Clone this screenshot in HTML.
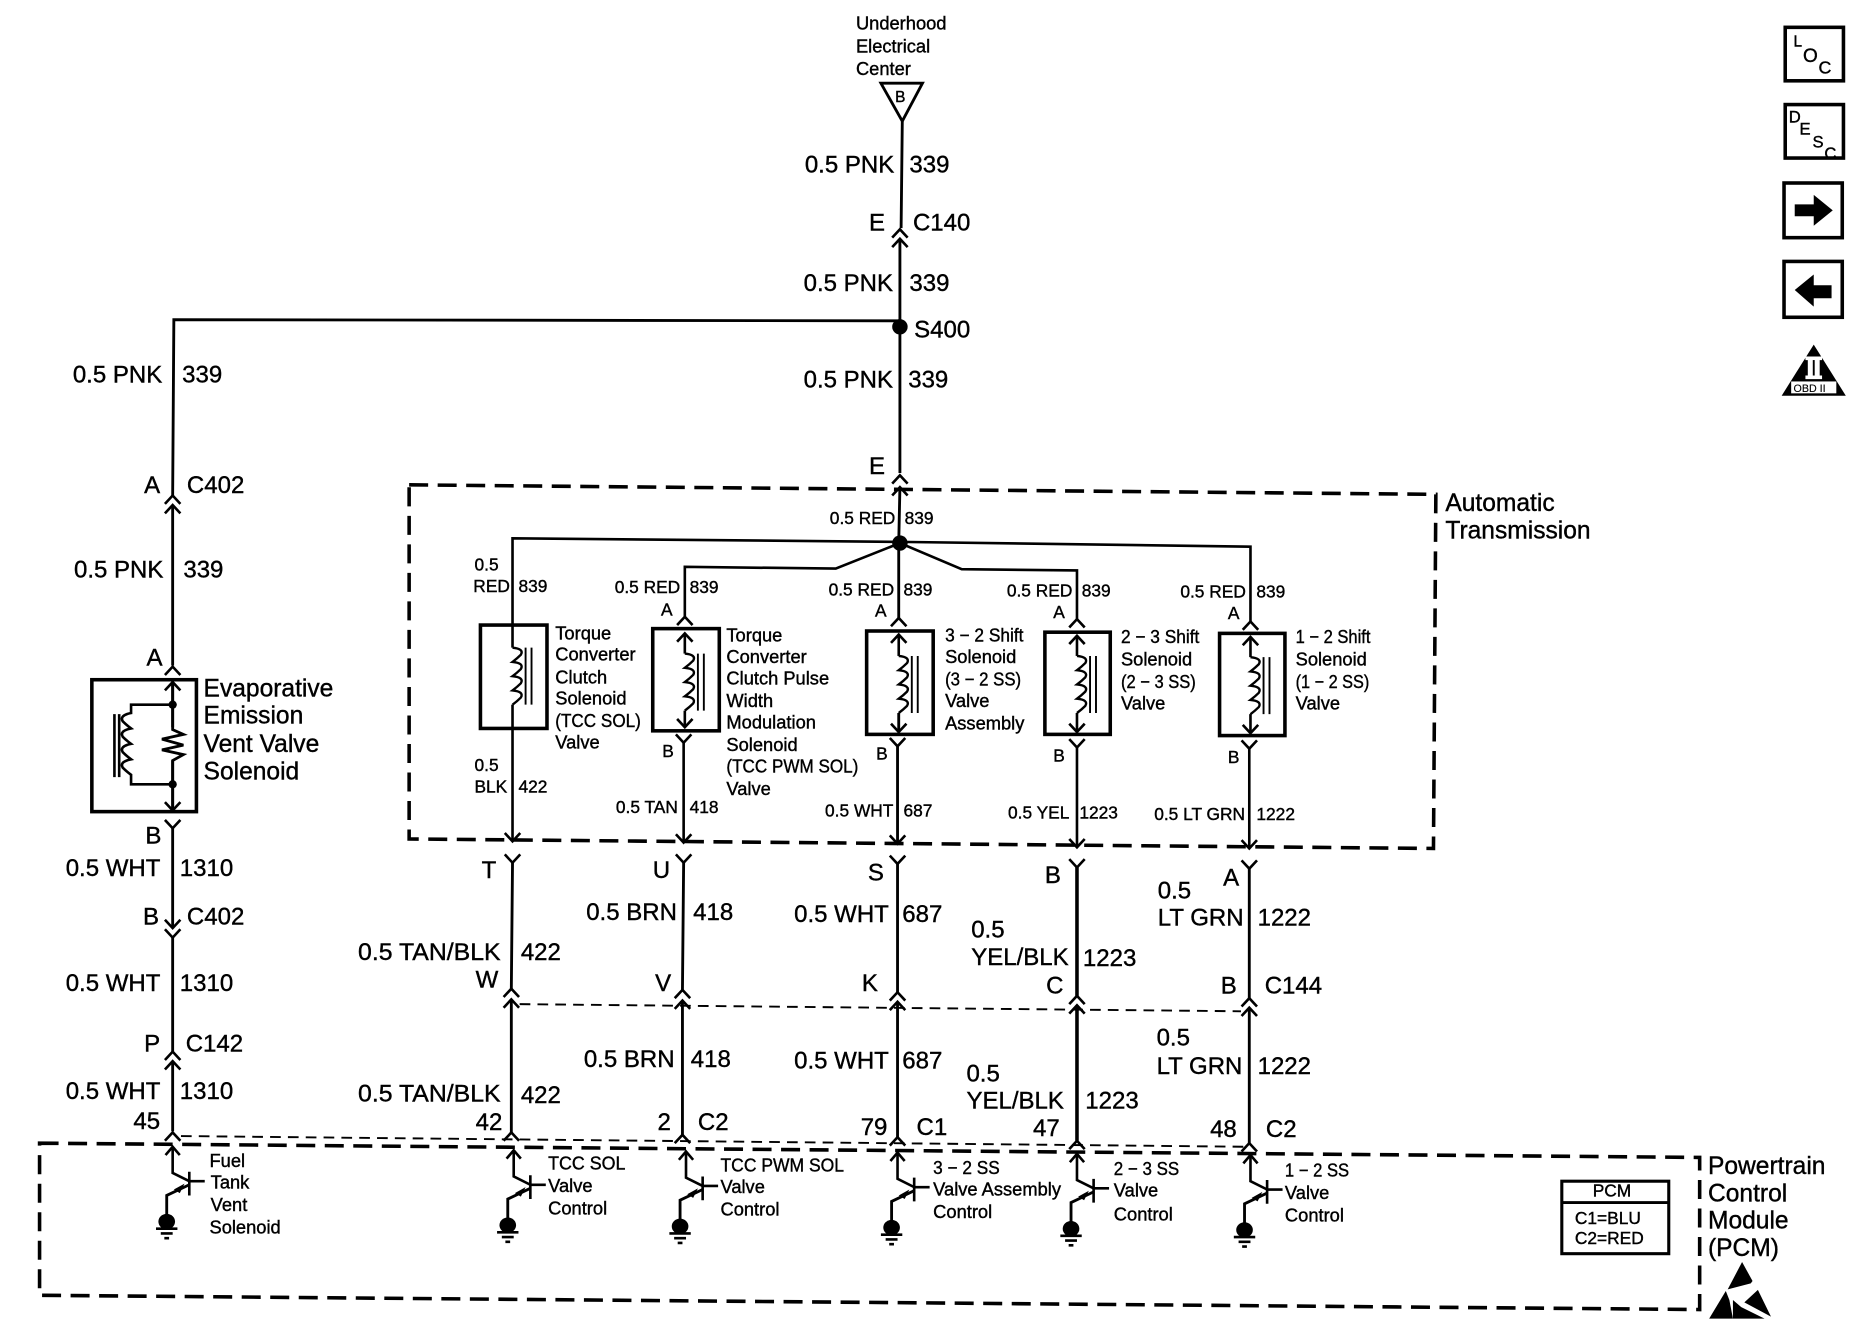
<!DOCTYPE html>
<html><head><meta charset="utf-8"><style>
html,body{margin:0;padding:0;background:#fff}
svg{display:block}
text{font-family:"Liberation Sans",sans-serif;fill:#000;stroke:#000;stroke-width:.33}
.w{font-size:20.2px}.s{font-size:14.6px}.m{font-size:15.4px}.l{font-size:20.7px}
.n{fill:none;stroke:#000;stroke-width:2.4}
.c{fill:none;stroke:#000;stroke-width:2.2}
</style></head><body>
<svg xmlns="http://www.w3.org/2000/svg" width="1864" height="1344" viewBox="0 0 1568 1131">
<defs>
<path id="u" class="c" d="M-6.5 7L0 0L6.5 7"/>
<path id="d" class="c" d="M-6.5 -7L0 0L6.5 -7"/>
<g id="coil" class="c"><path stroke-width="2" d="M0 0q10 1 7 6q-3 3 -7 6q10 1 7 6q-3 3 -7 6q10 1 7 6q-3 3 -7 6q10 1 7 6q-3 3 -7 6"/><path d="M11 0V48M16 0V48" stroke-width="1.6"/></g>
<g id="t"><path class="c" d="M0 1V22L14 29"/><path class="c" d="M-6 7L0 0L6 7"/><path class="c" d="M14 21V41M14 29H27" stroke-width="1.8"/><path class="n" d="M14 32L-5 41V58"/><path d="M10 31L1 36L6 39Z"/><ellipse cx="-5" cy="63" rx="7" ry="6.500"/><path class="c" d="M-14 69H4M-10 73H0M-7 77H-3" stroke-width="1.7"/></g>
</defs>

<!-- wires main -->
<path class="n" d="M759 102L758 192M757 201L757 398M757 410L756 457"/>
<path class="n" d="M757 270L146 269L145 417M145 425V560M145 574V592M145 612V592M145 640V682M145 697V781M145 789V885M145 893V952"/>
<path class="n" d="M741 70H776L759 102Z" fill="#fff"/>
<use href="#u" x="757" y="193"/><use href="#u" x="757" y="201"/>
<circle cx="757" cy="275" r="6.500"/>
<use href="#u" x="757" y="400"/><use href="#u" x="757" y="410"/>
<use href="#u" x="145" y="417"/><use href="#u" x="145" y="425"/>
<use href="#u" x="145" y="561"/><use href="#u" x="145" y="574"/>
<use href="#d" x="145" y="682"/><use href="#d" x="145" y="697"/>
<use href="#d" x="145" y="781"/><use href="#d" x="145" y="789"/>
<use href="#u" x="145" y="885"/><use href="#u" x="145" y="893"/>
<use href="#u" x="145" y="953"/>

<!-- evap solenoid -->
<rect x="77" y="572" width="88" height="111" fill="none" stroke="#000" stroke-width="3"/>
<path class="n" d="M145 574V614L154 618L136 622L154 627L136 631L154 635L145 640V682"/>
<path class="c" d="M145 593H110V600q-10 2 -7 7q3 3 7 6q-10 2 -7 7q3 3 7 6q-10 2 -7 7q3 3 7 6q-10 2 -7 7q3 3 7 6V660H145"/>
<path class="c" d="M96 601V654M100 601V654" stroke-width="1.6"/>
<circle cx="145" cy="593" r="3.500"/><circle cx="145" cy="660" r="3.500"/>

<!-- AT box -->
<path d="M344 408L1208 416L1206 714L344 706Z" fill="none" stroke="#000" stroke-width="3" stroke-dasharray="16 8"/>
<!-- bus -->
<path class="c" d="M431 545V453L757 456L1052 460V523"/>
<path class="c" d="M576 519V477L703 478.500L757 457L809 479L906 480V521"/>
<circle cx="757" cy="457" r="6.500"/>
<path class="n" d="M756 457V520" stroke-width="3"/>

<!-- solenoid boxes -->
<g fill="none" stroke="#000" stroke-width="3">
<rect x="404" y="526" width="56" height="87"/>
<rect x="549" y="529" width="56" height="86"/>
<rect x="729" y="531" width="56" height="87"/>
<rect x="879" y="532" width="55" height="86"/>
<rect x="1026" y="533" width="55" height="86"/>
</g>
<use href="#coil" x="431" y="545"/><path class="c" d="M431 593V707"/><use href="#d" x="431" y="708"/>
<use href="#u" x="576" y="519"/><use href="#u" x="576" y="533"/><path class="c" d="M576 533V550"/><use href="#coil" x="576" y="550"/><path class="c" d="M576 598V612M575 625V708"/><use href="#d" x="576" y="612"/><use href="#d" x="575" y="625"/><use href="#d" x="575" y="709"/>
<use href="#u" x="756" y="520"/><use href="#u" x="756" y="534"/><path class="c" d="M756 534V552"/><use href="#coil" x="756" y="552"/><path class="n" d="M756 600V616M755 628V709"/><use href="#d" x="756" y="616"/><use href="#d" x="755" y="628"/><use href="#d" x="755" y="710"/>
<use href="#u" x="906" y="521"/><use href="#u" x="906" y="535"/><path class="c" d="M906 535V552"/><use href="#coil" x="906" y="552"/><path class="c" d="M906 600V616M906 629V713"/><use href="#d" x="906" y="616"/><use href="#d" x="906" y="629"/><use href="#d" x="906" y="713"/>
<use href="#u" x="1052" y="523"/><use href="#u" x="1052" y="536"/><path class="c" d="M1052 536V553"/><use href="#coil" x="1052" y="553"/><path class="c" d="M1052 601V617M1051 630V714"/><use href="#d" x="1052" y="617"/><use href="#d" x="1051" y="630"/><use href="#d" x="1051" y="714"/>

<!-- lower wires -->
<g class="n">
<path d="M431 726L430 832M430 841V953"/>
<path d="M575 726L574 833M574 842V955"/>
<path d="M755 727V835M755 843V957"/>
<path d="M906 730V838M906 846V960" stroke-width="3"/>
<path d="M1051 731V840M1051 848V962"/>
</g>
<use href="#d" x="431" y="726"/><use href="#d" x="575" y="726"/><use href="#d" x="755" y="727"/><use href="#d" x="906" y="730"/><use href="#d" x="1051" y="731"/>
<use href="#u" x="430" y="832"/><use href="#u" x="430" y="841"/>
<use href="#u" x="574" y="833"/><use href="#u" x="574" y="842"/>
<use href="#u" x="755" y="835"/><use href="#u" x="755" y="843"/>
<use href="#u" x="906" y="838"/><use href="#u" x="906" y="846"/>
<use href="#u" x="1051" y="840"/><use href="#u" x="1051" y="848"/>
<use href="#u" x="430" y="953"/><use href="#u" x="574" y="955"/><use href="#u" x="755" y="957"/><use href="#u" x="906" y="960"/><use href="#u" x="1051" y="962"/>

<!-- thin dashed -->
<path d="M437 845L1044 851" fill="none" stroke="#000" stroke-width="1.600" stroke-dasharray="9 6"/>
<path d="M152 956L1046 965" fill="none" stroke="#000" stroke-width="1.600" stroke-dasharray="9 6"/>

<!-- PCM box -->
<path d="M33 962L1430 974L1430 1102L33 1090Z" fill="none" stroke="#000" stroke-width="3" stroke-dasharray="16 8"/>
<use href="#t" x="145" y="965"/><use href="#t" x="432" y="968"/><use href="#t" x="577" y="969"/><use href="#t" x="755" y="970"/><use href="#t" x="906" y="971"/><use href="#t" x="1052" y="972"/>

<!-- icons -->
<g fill="#fff" stroke="#000" stroke-width="3">
<rect x="1502" y="23" width="49" height="45"/>
<rect x="1502" y="88" width="49" height="45"/>
<rect x="1501" y="154" width="49" height="46"/>
<rect x="1501" y="220" width="49" height="47"/>
</g>
<text x="1509" y="39" style="font-size:13px">L</text><text x="1517" y="52" style="font-size:16px">O</text><text x="1530" y="62" style="font-size:15px">C</text>
<text x="1505" y="103" style="font-size:14px">D</text><text x="1514" y="113" style="font-size:14px">E</text><text x="1525" y="124" style="font-size:14px">S</text><text x="1535" y="134" style="font-size:14px">C</text>
<path d="M1510 172H1526V164L1542 177L1526 190V182H1510Z"/>
<path d="M1541 240H1526V231L1510 244L1526 258V251H1541Z"/>
<path d="M1526 290L1553 333H1499Z"/>
<path d="M1519 300H1533V303H1531V316H1533V319H1519V316H1521V303H1519Z" fill="#fff"/>
<rect x="1525.200" y="303" width="1.600" height="13"/>
<rect x="1507" y="321" width="38" height="10" fill="#fff"/>
<text x="1509" y="330" style="font-size:9px;stroke-width:.1">OBD II</text>

<!-- PCM legend -->
<rect x="1314" y="994" width="90" height="61" fill="none" stroke="#000" stroke-width="2.600"/>
<path d="M1314 1012H1404" stroke="#000" stroke-width="2.400"/>
<text class="s" x="1340" y="1007">PCM</text>
<text class="s" x="1325" y="1030">C1=BLU</text>
<text class="s" x="1325" y="1047">C2=RED</text>
<!-- ESD -->
<path d="M1465.700 1062L1474.500 1078L1473 1080L1453.600 1085Z"/>
<path d="M1452 1086.400L1438 1109.600H1458L1455 1094Z"/>
<path d="M1458 1094L1465 1100L1484.600 1109.600H1458Z"/>
<path d="M1479 1085.500L1490 1108L1467.600 1096Z"/>

<!-- text -->
<text class="m" x="720" y="25">Underhood</text><text class="m" x="720" y="44">Electrical</text><text class="m" x="720" y="63">Center</text>
<text x="753" y="86" style="font-size:13px">B</text>
<g class="w">
<text x="677" y="145">0.5 PNK</text><text x="765" y="145">339</text>
<text x="731" y="194">E</text><text x="768" y="194">C140</text>
<text x="676" y="245">0.5 PNK</text><text x="765" y="245">339</text>
<text x="769" y="284">S400</text>
<text x="676" y="326">0.5 PNK</text><text x="764" y="326">339</text>
<text x="731" y="399">E</text>
<text x="61" y="322">0.5 PNK</text><text x="153" y="322">339</text>
<text x="121" y="415">A</text><text x="157" y="415">C402</text>
<text x="62" y="486">0.5 PNK</text><text x="154" y="486">339</text>
<text x="123" y="560">A</text>
<text x="122" y="710">B</text>
<text x="55" y="737">0.5 WHT</text><text x="151" y="737">1310</text>
<text x="120" y="778">B</text><text x="157" y="778">C402</text>
<text x="55" y="834">0.5 WHT</text><text x="151" y="834">1310</text>
<text x="121" y="885">P</text><text x="156" y="885">C142</text>
<text x="55" y="925">0.5 WHT</text><text x="151" y="925">1310</text>
<text x="112" y="950">45</text>

<text x="405" y="739">T</text><text x="549" y="739">U</text><text x="730" y="741">S</text><text x="879" y="743">B</text><text x="1029" y="745">A</text>
<text x="301" y="808" textLength="120" lengthAdjust="spacingAndGlyphs">0.5 TAN/BLK</text><text x="438" y="808">422</text><text x="400" y="831">W</text>
<text x="493" y="774">0.5 BRN</text><text x="583" y="774">418</text><text x="551" y="834">V</text>
<text x="668" y="776">0.5 WHT</text><text x="759" y="776">687</text><text x="725" y="834">K</text>
<text x="817" y="789">0.5</text><text x="817" y="812">YEL/BLK</text><text x="911" y="813">1223</text><text x="880" y="836">C</text>
<text x="974" y="756">0.5</text><text x="974" y="779">LT GRN</text><text x="1058" y="779">1222</text><text x="1027" y="836">B</text><text x="1064" y="836">C144</text>
<text x="301" y="927" textLength="120" lengthAdjust="spacingAndGlyphs">0.5 TAN/BLK</text><text x="438" y="928">422</text><text x="400" y="951">42</text>
<text x="491" y="898">0.5 BRN</text><text x="581" y="898">418</text><text x="553" y="951">2</text><text x="587" y="951">C2</text>
<text x="668" y="899">0.5 WHT</text><text x="759" y="899">687</text><text x="724" y="955">79</text><text x="771" y="955">C1</text>
<text x="813" y="910">0.5</text><text x="813" y="933">YEL/BLK</text><text x="913" y="933">1223</text><text x="869" y="956">47</text>
<text x="973" y="880">0.5</text><text x="973" y="904">LT GRN</text><text x="1058" y="904">1222</text><text x="1018" y="957">48</text><text x="1065" y="957">C2</text>
</g>
<g class="l">
<text x="171" y="586">Evaporative</text><text x="171" y="609">Emission</text><text x="171" y="633">Vent Valve</text><text x="171" y="656">Solenoid</text>
<text x="1216" y="430">Automatic</text><text x="1216" y="453">Transmission</text>
<text x="1437" y="988">Powertrain</text><text x="1437" y="1011">Control</text><text x="1437" y="1034">Module</text><text x="1437" y="1057">(PCM)</text>
</g>
<g class="s">
<text x="698" y="441">0.5 RED</text><text x="761" y="441">839</text>
<text x="399" y="480">0.5</text><text x="398" y="498">RED</text><text x="436" y="498">839</text>
<text x="517" y="499">0.5 RED</text><text x="580" y="499">839</text>
<text x="697" y="501">0.5 RED</text><text x="760" y="501">839</text>
<text x="847" y="502">0.5 RED</text><text x="910" y="502">839</text>
<text x="993" y="503">0.5 RED</text><text x="1057" y="503">839</text>
<text x="556" y="518">A</text><text x="736" y="519">A</text><text x="886" y="520">A</text><text x="1033" y="521">A</text>
<text x="557" y="637">B</text><text x="737" y="639">B</text><text x="886" y="641">B</text><text x="1033" y="642">B</text>
<text x="399" y="649">0.5</text><text x="399" y="667">BLK</text><text x="436" y="667">422</text>
<text x="518" y="684">0.5 TAN</text><text x="580" y="684">418</text>
<text x="694" y="687">0.5 WHT</text><text x="760" y="687">687</text>
<text x="848" y="689">0.5 YEL</text><text x="908" y="689">1223</text>
<text x="971" y="690">0.5 LT GRN</text><text x="1057" y="690">1222</text>
</g>
<g class="m">
<text x="467" y="538">Torque</text><text x="467" y="556">Converter</text><text x="467" y="575">Clutch</text><text x="467" y="593">Solenoid</text><text x="467" y="612" textLength="72" lengthAdjust="spacingAndGlyphs">(TCC SOL)</text><text x="467" y="630">Valve</text>
<text x="611" y="540">Torque</text><text x="611" y="558">Converter</text><text x="611" y="576">Clutch Pulse</text><text x="611" y="595">Width</text><text x="611" y="613">Modulation</text><text x="611" y="632">Solenoid</text><text x="611" y="650" textLength="111" lengthAdjust="spacingAndGlyphs">(TCC PWM SOL)</text><text x="611" y="669">Valve</text>
<text x="795" y="540" textLength="66" lengthAdjust="spacingAndGlyphs">3 − 2 Shift</text><text x="795" y="558">Solenoid</text><text x="795" y="577" textLength="64" lengthAdjust="spacingAndGlyphs">(3 − 2 SS)</text><text x="795" y="595">Valve</text><text x="795" y="614">Assembly</text>
<text x="943" y="541" textLength="66" lengthAdjust="spacingAndGlyphs">2 − 3 Shift</text><text x="943" y="560">Solenoid</text><text x="943" y="579" textLength="63" lengthAdjust="spacingAndGlyphs">(2 − 3 SS)</text><text x="943" y="597">Valve</text>
<text x="1090" y="541" textLength="63" lengthAdjust="spacingAndGlyphs">1 − 2 Shift</text><text x="1090" y="560">Solenoid</text><text x="1090" y="579" textLength="62" lengthAdjust="spacingAndGlyphs">(1 − 2 SS)</text><text x="1090" y="597">Valve</text>
<text x="176" y="982">Fuel</text><text x="177" y="1000">Tank</text><text x="177" y="1019">Vent</text><text x="176" y="1038">Solenoid</text>
<text x="461" y="984" textLength="65" lengthAdjust="spacingAndGlyphs">TCC SOL</text><text x="461" y="1003">Valve</text><text x="461" y="1022">Control</text>
<text x="606" y="986" textLength="104" lengthAdjust="spacingAndGlyphs">TCC PWM SOL</text><text x="606" y="1004">Valve</text><text x="606" y="1023">Control</text>
<text x="785" y="988" textLength="56" lengthAdjust="spacingAndGlyphs">3 − 2 SS</text><text x="785" y="1006">Valve Assembly</text><text x="785" y="1025">Control</text>
<text x="937" y="989" textLength="55" lengthAdjust="spacingAndGlyphs">2 − 3 SS</text><text x="937" y="1007">Valve</text><text x="937" y="1027">Control</text>
<text x="1081" y="990" textLength="54" lengthAdjust="spacingAndGlyphs">1 − 2 SS</text><text x="1081" y="1009">Valve</text><text x="1081" y="1028">Control</text>
</g>
</svg>
</body></html>
